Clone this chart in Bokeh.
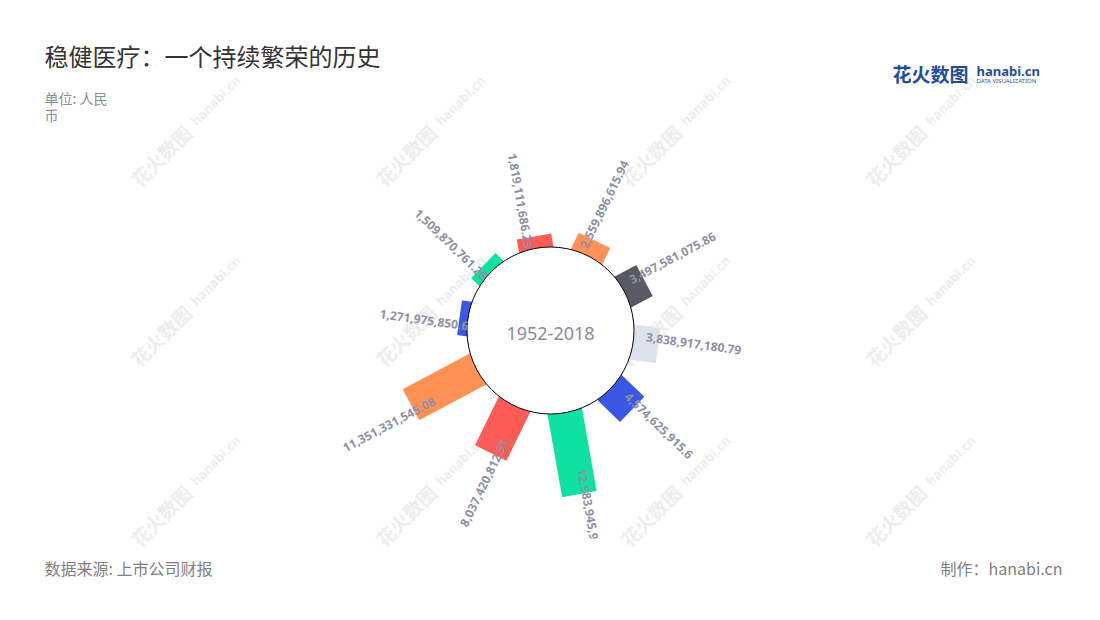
import numpy as np
from bokeh.plotting import figure
from bokeh.models import ColumnDataSource, Range1d, Label
from bokeh.core.properties import value
from bokeh.embed import file_html
from bokeh.resources import INLINE

# ---------------- data ----------------
title_text = "稳健医疗：一个持续繁荣的历史"
unit_lines = ["单位: 人民", "币"]
period_text = "1952-2018"
source_text = "数据来源: 上市公司财报"
credit_text = "制作：hanabi.cn"

values = [1819111686.23, 2559896615.94, 3497581075.86, 3838917180.79, 4574625915.6,
          12583945936.17, 8037420812.91, 11351331545.08, 1271975850.6, 1509870761.26]
colors = ["#ff5b57", "#ff9155", "#5a5a64", "#dde1eb", "#3b57e8",
          "#0ee2a0", "#ff5b57", "#ff9155", "#3b57e8", "#0ee2a0"]

# ---------------- geometry (1 data unit == 1 screen px) ----------------
CX, CY = 550, 330      # disc centre (page px)
HUB_R = 83.5           # radius of the centre disc
PX_PER_BILLION = 6.57  # radial scale
BAR_THICK = 35
START_DEG = 100
STEP_DEG = 36
CLIP_Y = 538           # lower edge of the chart area

n = len(values)
v = np.array(values) / 1e9
theta = np.deg2rad(START_DEG - STEP_DEG * np.arange(n))
r_in = HUB_R - 4
r_out = HUB_R + PX_PER_BILLION * v
r_mid = (r_in + r_out) / 2
length = r_out - r_in

bars = ColumnDataSource(dict(
    x=CX + r_mid * np.cos(theta), y=-CY + r_mid * np.sin(theta),
    w=length, h=[BAR_THICK] * n, a=theta, c=colors))

# value labels
r_lab = r_out - (8 + 0.2 * (r_out - HUB_R))
off = 7
lx = CX + r_lab * np.cos(theta) - off * np.sin(theta)
ly = -CY + r_lab * np.sin(theta) + off * np.cos(theta)
right_side = np.cos(theta) > 0
lab_angle = np.where(right_side, theta, theta + np.pi)
lab_align = ["left" if rs else "right" for rs in right_side]
lab_text = [f"{val:,}" for val in values]
labs = ColumnDataSource(dict(x=lx, y=ly, t=lab_text, a=lab_angle, al=lab_align))

# ---------------- figure ----------------
W, H = 1084, 604
p = figure(width=W, height=H, output_backend="svg", toolbar_location=None,
           title=None, min_border=0,
           x_range=Range1d(0, W), y_range=Range1d(-H, 0))
p.axis.visible = False
p.grid.visible = False
p.outline_line_color = None
p.background_fill_color = "white"
p.border_fill_color = "white"

CJK = "Noto Sans CJK SC"

def Y(py):
    return -py

# watermarks (under everything)
wm_cx, wm_cy, wm_hx, wm_hy = [], [], [], []
for i in range(3):
    for j in range(4):
        bx, by = 160 + 245 * j, 155 + 180 * i
        wm_cx.append(bx); wm_cy.append(Y(by))
        wm_hx.append(bx + 55); wm_hy.append(Y(by - 55))
p.text(x=wm_cx, y=wm_cy, text=["花火数图"] * len(wm_cx), angle=np.pi / 4,
       text_align="center", text_baseline="middle", text_font=value(CJK),
       text_font_size="19px", text_font_style="bold", text_color="#ededed")
p.text(x=wm_hx, y=wm_hy, text=["hanabi.cn"] * len(wm_hx), angle=np.pi / 4,
       text_align="center", text_baseline="middle", text_font=value("Noto Sans"),
       text_font_size="13px", text_font_style="bold", text_color="#ededed")

# bars
p.rect(x="x", y="y", width="w", height="h", angle="a", fill_color="c",
       line_color=None, source=bars)

# hub
p.circle(x=[CX], y=[-CY], radius=HUB_R, fill_color="white", line_color="black", line_width=1)

# value labels
p.text(x="x", y="y", text="t", angle="a", text_align="al", text_baseline="middle",
       text_font=value("Noto Sans"), text_font_size="12px", text_font_style="bold",
       text_color="#8f90a4", source=labs)

# chart-area clipping below CLIP_Y (only where a label crosses it)
p.quad(left=[CX], right=[CX + 70], top=[Y(CLIP_Y)], bottom=[-H], fill_color="white", line_color=None)

# centre text
p.text(x=[CX], y=[Y(333)], text=[period_text], text_align="center", text_baseline="middle",
       text_font=value("Noto Sans"), text_font_size="18px", text_color="#8a8b9c")

# titles & notes
p.add_layout(Label(x=44, y=Y(55), text=title_text, text_baseline="middle",
                   text_font=CJK, text_font_size="24px", text_color="#333333"))
p.add_layout(Label(x=44, y=Y(97), text=unit_lines[0], text_baseline="middle",
                   text_font=CJK, text_font_size="14px", text_color="#8c8c8c"))
p.add_layout(Label(x=44, y=Y(114), text=unit_lines[1], text_baseline="middle",
                   text_font=CJK, text_font_size="14px", text_color="#8c8c8c"))
p.add_layout(Label(x=44, y=Y(567), text=source_text, text_baseline="middle",
                   text_font=CJK, text_font_size="16px", text_color="#808080"))
p.add_layout(Label(x=1062, y=Y(567), text=credit_text, text_baseline="middle", text_align="right",
                   text_font=CJK, text_font_size="16px", text_color="#808080"))

# logo
p.add_layout(Label(x=892, y=Y(73), text="花火数图", text_baseline="middle",
                   text_font=CJK, text_font_size="19px", text_font_style="bold",
                   text_color="#1f4e9f"))
p.add_layout(Label(x=976, y=Y(70), text="hanabi.cn", text_baseline="middle",
                   text_font="Noto Sans", text_font_size="13px", text_font_style="bold",
                   text_color="#1f4e9f"))
p.add_layout(Label(x=976, y=Y(80), text="DATA VISUALIZATION", text_baseline="middle",
                   text_font="Noto Sans", text_font_size="6px",
                   text_color="#1f4e9f"))

open("out.html", "w").write(file_html(p, INLINE))
